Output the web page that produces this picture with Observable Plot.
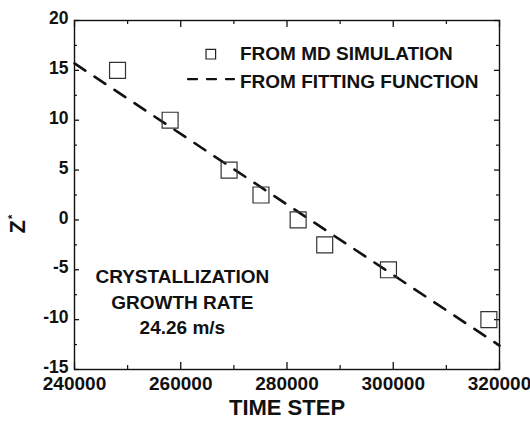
<!DOCTYPE html>
<html><head><meta charset="utf-8">
<script src="https://cdn.jsdelivr.net/npm/d3@7"></script>
<script src="https://cdn.jsdelivr.net/npm/@observablehq/plot@0.6"></script>
<style>body{margin:0;background:#fff}</style>
</head><body><div id="chart"></div>
<script>
// Data
const timeSteps = [248100, 258000, 269100, 275100, 282100, 287100, 299100, 318000];
const zValues   = [15, 10, 5, 2.5, 0, -2.5, -5, -10];
const fitTime   = [240000, 320000];
const fitZ      = [15.7, -12.6];
const xMajorTicks = [240000, 260000, 280000, 300000, 320000];
const xMinorTicks = [250000, 270000, 290000, 310000];
const yMajorTicks = [-15, -10, -5, 0, 5, 10, 15, 20];
const yMinorTicks = [-12.5, -7.5, -2.5, 2.5, 7.5, 12.5, 17.5];
const legendLabels = ["FROM MD SIMULATION", "FROM FITTING FUNCTION"];
const annotationLines = ["CRYSTALLIZATION", "GROWTH RATE", "24.26 m/s"];
const xLabel = "TIME STEP";
const yLabel = "Z";

// annotation anchor positions (data units)
const legendTextX = 271150, legendTextY = [16.6, 13.83];
const legendSymX = 265660, legendSymY = 16.62;
const legendDashX = [261365, 270020], legendDashY = 14.12;
const annotX = 260300, annotY = [-5.67, -8.34, -10.86];
const yLabelZ = -1.36;

const W = 530, H = 429, mL = 74, mR = 31, mT = 20, mB = 60;
const fh = H - mT - mB, fw = W - mL - mR;
const font = "'Liberation Sans', Arial, Helvetica, sans-serif";

const points = timeSteps.map((t, i) => ({t, z: zValues[i]}));
const fit = fitTime.map((t, i) => ({t, z: fitZ[i]}));

const svg = Plot.plot({
  width: W, height: H,
  marginLeft: mL, marginRight: mR, marginTop: mT, marginBottom: mB,
  style: {fontFamily: font, fontWeight: "bold", fontSize: "18px", background: "#fff", color: "#111"},
  x: {domain: [240000, 320000]},
  y: {domain: [-15, 20]},
  marks: [
    Plot.frame({stroke: "#111", strokeWidth: 1.4}),
    // inward ticks on all four sides
    Plot.tickX(xMajorTicks, {x: d => d, insetTop: fh - 7, strokeWidth: 1.3, stroke: "#111"}),
    Plot.tickX(xMajorTicks, {x: d => d, insetBottom: fh - 7, strokeWidth: 1.3, stroke: "#111"}),
    Plot.tickX(xMinorTicks, {x: d => d, insetTop: fh - 4, strokeWidth: 1.2, stroke: "#111"}),
    Plot.tickX(xMinorTicks, {x: d => d, insetBottom: fh - 4, strokeWidth: 1.2, stroke: "#111"}),
    Plot.tickY(yMajorTicks, {y: d => d, insetRight: fw - 5, strokeWidth: 1.3, stroke: "#111"}),
    Plot.tickY(yMajorTicks, {y: d => d, insetLeft: fw - 5, strokeWidth: 1.3, stroke: "#111"}),
    Plot.tickY(yMinorTicks, {y: d => d, insetRight: fw - 3, strokeWidth: 1.2, stroke: "#111"}),
    Plot.tickY(yMinorTicks, {y: d => d, insetLeft: fw - 3, strokeWidth: 1.2, stroke: "#111"}),
    Plot.axisX({ticks: xMajorTicks, tickSize: 0, tickPadding: 7, tickFormat: d => String(d), label: null, fontSize: 19, fontWeight: "bold", letterSpacing: "-0.6px"}),
    Plot.axisY({ticks: yMajorTicks, tickSize: 0, tickPadding: 6, dy: -2, tickFormat: d => String(d), label: null, fontSize: 17.5, fontWeight: "bold"}),
    // fitting function
    Plot.line(fit, {x: "t", y: "z", stroke: "#111", strokeWidth: 2.6, strokeDasharray: "13,11"}),
    // MD simulation
    Plot.dot(points, {x: "t", y: "z", symbol: "square", r: 9, stroke: "#333", strokeWidth: 1.2, fill: "none"}),
    // legend
    Plot.dot([0], {x: () => legendSymX, y: () => legendSymY, symbol: "square", r: 5.4, stroke: "#222", strokeWidth: 1.2, fill: "none"}),
    Plot.line(legendDashX.map(x => ({x, y: legendDashY})), {x: "x", y: "y", stroke: "#111", strokeWidth: 2.2, strokeDasharray: "9,10"}),
    Plot.text(legendLabels, {x: () => legendTextX, y: (d, i) => legendTextY[i], text: d => d, textAnchor: "start", fontSize: 19, fontWeight: "bold", fill: "#111"}),
    // annotation
    Plot.text(annotationLines, {x: () => annotX, y: (d, i) => annotY[i], text: d => d, textAnchor: "middle", fontSize: 19, fontWeight: "bold", fill: "#111"}),
    // axis labels
    Plot.text([xLabel], {frameAnchor: "bottom", dy: 45, text: d => d, fontSize: 22, fontWeight: "bold", letterSpacing: "-0.8px", fill: "#111"}),
    Plot.text([yLabel], {frameAnchor: "left", y: () => yLabelZ, dx: -50, rotate: -90, textAnchor: "start", text: d => d, fontSize: 22, fontWeight: "bold", fill: "#111"})
  ]
});

// make sure the Z label is rotated, and add the superscript star
const yPix = svg.scale("y").apply(yLabelZ);
const zText = d3.select(svg).selectAll("text").filter(function() { return this.textContent === yLabel; });
zText.attr("x", null).attr("y", null)
  .attr("transform", `translate(${mL},${yPix}) rotate(-90)`);
zText.append("tspan").attr("font-size", 11).attr("dy", "-0.75em").attr("dx", "1").text("*");

document.getElementById("chart").appendChild(svg);
</script>
</body></html>
